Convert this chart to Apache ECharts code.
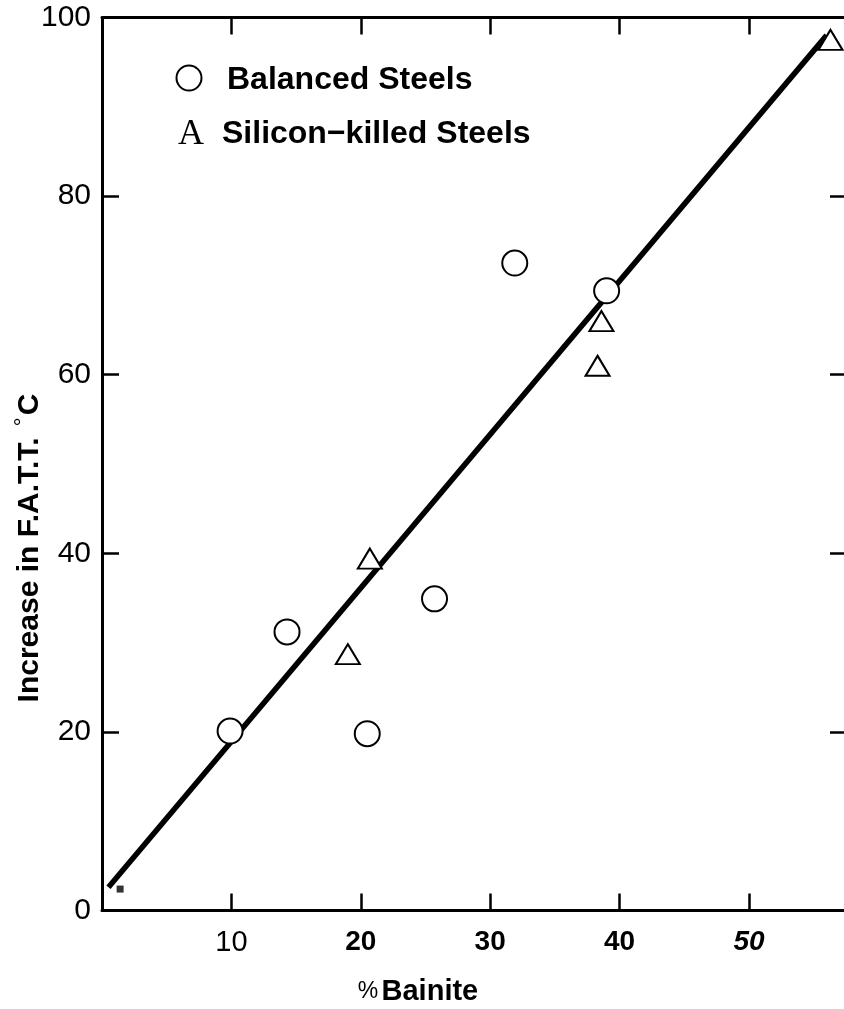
<!DOCTYPE html>
<html>
<head>
<meta charset="utf-8">
<script src="https://cdn.jsdelivr.net/npm/echarts@6/dist/echarts.min.js"></script>
<style>
html,body{margin:0;padding:0;background:#fff;}
#chart{width:844px;height:1009px;}
</style>
</head>
<body>
<div id="chart"></div>
<script>
// % Bainite vs Increase in F.A.T.T. (°C)
const balancedX = [9.9, 14.3, 20.5, 25.7, 31.9, 39.0];
const balancedY = [20.1, 31.2, 19.8, 34.9, 72.5, 69.4];
const siliconX = [19.0, 20.7, 38.3, 38.6, 56.3];
const siliconY = [28.7, 39.4, 61.0, 66.0, 97.5];
const fitX = [0.5, 56.0];
const fitY = [2.6, 98.0];
const markX = [1.4];
const markY = [2.4];
const xTicks = [10, 20, 30, 40, 50];
const yTicks = [0, 20, 40, 60, 80, 100];
const legendNames = ['Balanced Steels', 'Silicon\u2212killed Steels'];
const xTitle = ['%', 'Bainite'];
const yTitle = ['Increase in F.A.T.T. ', '\u00b0', 'C'];

const zip = (a, b) => a.map((v, i) => [v, b[i]]);
const FONT = '"Liberation Sans", Arial, sans-serif';

const chart = echarts.init(document.getElementById('chart'), null, {renderer: 'canvas'});

const tickStyle = {color: '#000', width: 2.5};
const axisLine = {show: true, onZero: false, lineStyle: {color: '#000', width: 3}};

const option = {
  backgroundColor: '#fff',
  animation: false,
  grid: {left: 102, top: 17.5, width: 744, height: 893, containLabel: false, outerBoundsMode: 'none'},
  xAxis: [{
    type: 'value', min: 0, max: 57.5, interval: 10, position: 'bottom',
    axisLine: axisLine,
    axisTick: {show: true, inside: true, length: 17, lineStyle: tickStyle},
    splitLine: {show: false},
    axisLabel: {
      margin: 18,
      formatter: function (v) {
        if (xTicks.indexOf(v) < 0) return '';
        if (v === 10) return '{r|' + v + '}';
        if (v === 50) return '{bi|' + v + '}';
        return '{b|' + v + '}';
      },
      rich: {
        r: {fontFamily: FONT, fontSize: 29, color: '#000', fontWeight: 'normal'},
        b: {fontFamily: FONT, fontSize: 28, color: '#000', fontWeight: 'bold'},
        bi: {fontFamily: FONT, fontSize: 28, color: '#000', fontWeight: 'bold', fontStyle: 'italic'}
      }
    }
  }, {
    type: 'value', min: 0, max: 57.5, interval: 10, position: 'top',
    axisLine: axisLine,
    axisTick: {show: true, inside: true, length: 17, lineStyle: tickStyle},
    splitLine: {show: false},
    axisLabel: {show: false}
  }],
  yAxis: [{
    type: 'value', min: 0, max: 100, interval: 20, position: 'left',
    axisLine: axisLine,
    axisTick: {show: true, inside: true, length: 17, lineStyle: tickStyle},
    splitLine: {show: false},
    axisLabel: {
      margin: 11, color: '#000', fontFamily: FONT, fontSize: 30,
      formatter: function (v) { return yTicks.indexOf(v) >= 0 ? String(v) : ''; }
    }
  }, {
    type: 'value', min: 0, max: 100, interval: 20, position: 'right',
    axisLine: axisLine,
    axisTick: {show: true, inside: true, length: 16, lineStyle: tickStyle},
    splitLine: {show: false},
    axisLabel: {show: false}
  }],
  series: [{
    name: 'fit', type: 'line', data: zip(fitX, fitY), showSymbol: false, symbol: 'none',
    lineStyle: {color: '#000', width: 5.5}, z: 1, silent: true
  }, {
    name: legendNames[0], type: 'scatter', data: zip(balancedX, balancedY),
    symbol: 'circle', symbolSize: 25,
    itemStyle: {color: '#fff', borderColor: '#000', borderWidth: 2, opacity: 1}, z: 3
  }, {
    name: legendNames[1], type: 'scatter', data: zip(siliconX, siliconY),
    symbol: 'triangle', symbolSize: [24, 20],
    itemStyle: {color: '#fff', borderColor: '#000', borderWidth: 2, opacity: 1}, z: 3
  }, {
    name: 'mark', type: 'scatter', data: zip(markX, markY),
    symbol: 'rect', symbolSize: 7,
    itemStyle: {color: '#000'}, z: 3
  }],
  graphic: [
    {type: 'circle', shape: {cx: 189, cy: 78, r: 12.5}, style: {fill: '#fff', stroke: '#000', lineWidth: 2}},
    {type: 'text', x: 227, y: 80, style: {text: legendNames[0], fontFamily: FONT, fontSize: 32, fontWeight: 'bold', fill: '#000', textAlign: 'left', textVerticalAlign: 'middle'}},
    {type: 'text', x: 191, y: 135, style: {text: 'A', fontFamily: '"Liberation Serif", "DejaVu Serif", serif', fontSize: 36, fontWeight: 'normal', fill: '#000', textAlign: 'center', textVerticalAlign: 'middle'}},
    {type: 'text', x: 222, y: 134, style: {text: legendNames[1], fontFamily: FONT, fontSize: 32, fontWeight: 'bold', fill: '#000', textAlign: 'left', textVerticalAlign: 'middle'}},
    {type: 'text', x: 418, y: 992, style: {
      text: '{p|' + xTitle[0] + '} {b|' + xTitle[1] + '}',
      textAlign: 'center', textVerticalAlign: 'middle',
      rich: {
        p: {fontFamily: FONT, fontSize: 23, fontWeight: 'normal', fill: '#000', color: '#000'},
        b: {fontFamily: FONT, fontSize: 29, fontWeight: 'bold', fill: '#000', color: '#000'}
      }
    }},
    {type: 'text', x: 30, y: 548, rotation: Math.PI / 2, style: {
      text: '{b|' + yTitle[0] + '}{d|' + yTitle[1] + '}{b|' + yTitle[2] + '}',
      textAlign: 'center', textVerticalAlign: 'middle',
      rich: {
        b: {fontFamily: FONT, fontSize: 30, fontWeight: 'bold', fill: '#000', color: '#000'},
        d: {fontFamily: FONT, fontSize: 22, fontWeight: 'normal', fontStyle: 'italic', fill: '#000', color: '#000', verticalAlign: 'top', padding: [0, 3, 12, 2]}
      }
    }}
  ]
};
chart.setOption(option);
</script>
</body>
</html>
